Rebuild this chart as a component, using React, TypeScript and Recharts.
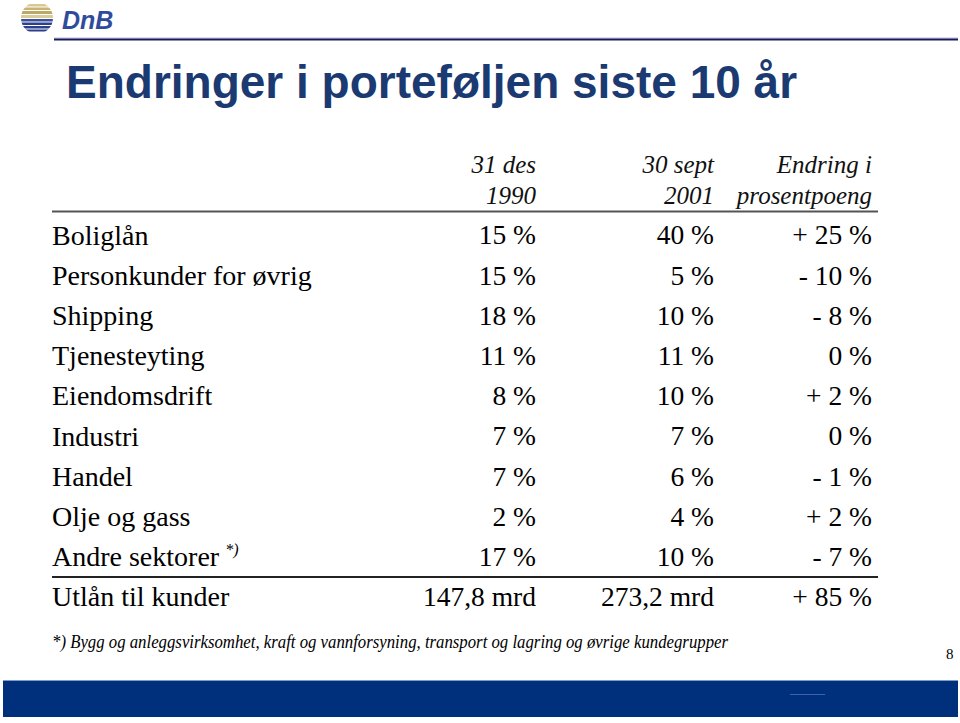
import { Bar, BarChart, LabelList, XAxis, YAxis } from "recharts";

const ROW_LABELS = [
  "Boliglån",
  "Personkunder for øvrig",
  "Shipping",
  "Tjenesteyting",
  "Eiendomsdrift",
  "Industri",
  "Handel",
  "Olje og gass",
  "Andre sektorer",
  "Utlån til kunder",
];
const SHARE_1990 = [15, 15, 18, 11, 8, 7, 7, 2, 17, 147.8];
const SHARE_2001 = [40, 5, 10, 11, 10, 7, 6, 4, 10, 273.2];
const CHANGE_PP = [25, -10, -8, 0, 2, 0, -1, 2, -7, 85];
const VALUE_UNIT = ["%", "%", "%", "%", "%", "%", "%", "%", "%", "mrd"];
const FOOTNOTE_ROW = "Andre sektorer";

const COL_HEADERS = [
  ["31 des", "1990"],
  ["30 sept", "2001"],
  ["Endring i", "prosentpoeng"],
];
const TITLE = "Endringer i porteføljen siste 10 år";
const FOOTNOTE =
  "*) Bygg og anleggsvirksomhet, kraft og vannforsyning, transport og lagring og øvrige kundegrupper";

const W = 960;
const H = 723;
const COL_X = [536, 714, 872];
const SERIF = "Liberation Serif, DejaVu Serif, serif";
const SANS = "Liberation Sans, Arial, sans-serif";
const NAVY = "#1b3a72";

const fmtShare = (v: number, unit: string) =>
  unit === "mrd" ? `${v.toFixed(1).replace(".", ",")} mrd` : `${v} %`;
const fmtChange = (v: number) =>
  v > 0 ? `+ ${v} %` : v < 0 ? `- ${-v} %` : "0 %";

const rows = ROW_LABELS.map((name, i) => ({
  name,
  v1990: SHARE_1990[i],
  s1990: fmtShare(SHARE_1990[i], VALUE_UNIT[i]),
  s2001: fmtShare(SHARE_2001[i], VALUE_UNIT[i]),
  sChange: fmtChange(CHANGE_PP[i]),
}));

// table cells: y comes from the row band, x is the column's right edge
const cell = (col: number) => (p: any) => {
  const y = p.y + p.height / 2;
  return (
    <text
      x={COL_X[col]}
      y={y}
      dy="0.34em"
      textAnchor="end"
      style={{ fontFamily: SERIF, fontSize: 27.5 }}
      fill="#000"
    >
      {p.value}
    </text>
  );
};

function RowLabel({ y, payload }: any) {
  return (
    <text x={52} y={y} dy="0.34em" style={{ fontFamily: SERIF, fontSize: 28 }} fill="#000">
      {payload.value}
      {payload.value === FOOTNOTE_ROW && (
        <tspan dx={6} dy={-11} style={{ fontSize: 16, fontStyle: "italic" }}>
          *)
        </tspan>
      )}
    </text>
  );
}

function Logo() {
  const stripes = [
    [4, 2.5, "#d9c98f"],
    [7.5, 2.5, "#c9b276"],
    [11, 3, "#bfa866"],
    [15, 3, "#d8cc98"],
    [19, 2.5, "#3b4f9a"],
    [22.5, 2.5, "#2b3f8c"],
    [26, 2.5, "#2b3f8c"],
    [29.5, 2, "#2b3f8c"],
  ] as const;
  return (
    <g>
      <defs>
        <clipPath id="logo-clip">
          <circle cx={37} cy={18} r={16} />
        </clipPath>
      </defs>
      <g clipPath="url(#logo-clip)">
        {stripes.map(([y, h, c], i) => (
          <rect key={i} x={18} y={y} width={40} height={h} fill={c} />
        ))}
      </g>
      <text
        x={62}
        y={29}
        style={{ fontFamily: SANS, fontWeight: "bold", fontStyle: "italic", fontSize: 25 }}
        fill="#2f4c9c"
      >
        DnB
      </text>
    </g>
  );
}

function Slide() {
  return (
    <svg width={W} height={H} style={{ position: "absolute", left: 0, top: 0 }}>
      <rect width={W} height={H} fill="#fff" />
      <Logo />
      <line x1={54} x2={958} y1={38} y2={38} stroke="#b8b8e4" strokeWidth={1} />
      <line x1={54} x2={958} y1={39.5} y2={39.5} stroke="#1a1a5a" strokeWidth={2} />
      <text
        x={66}
        y={98}
        style={{ fontFamily: SANS, fontWeight: "bold", fontSize: 46 }}
        fill={NAVY}
      >
        {TITLE}
      </text>
      {COL_HEADERS.map((lines, c) =>
        lines.map((t, l) => (
          <text
            key={`${c}-${l}`}
            x={COL_X[c]}
            y={173 + l * 31}
            textAnchor="end"
            style={{ fontFamily: SERIF, fontStyle: "italic", fontSize: 25 }}
            fill="#111"
          >
            {t}
          </text>
        ))
      )}
      <line x1={52} x2={878} y1={211.5} y2={211.5} stroke="#555" strokeWidth={2} />
      <line x1={52} x2={878} y1={577} y2={577} stroke="#222" strokeWidth={2} />
      <text
        x={52}
        y={648}
        style={{ fontFamily: SERIF, fontStyle: "italic", fontSize: 19 }}
        textLength={676}
        lengthAdjust="spacingAndGlyphs"
        fill="#000"
      >
        {FOOTNOTE}
      </text>
      <text x={946} y={659} style={{ fontFamily: SERIF, fontSize: 15 }} fill="#000">
        8
      </text>
      <rect x={3} y={680} width={955} height={37} fill="#00307c" />
      <line x1={3} x2={958} y1={680.5} y2={680.5} stroke="#7f9cc8" strokeWidth={1} />
      <line x1={790} x2={825} y1={694.5} y2={694.5} stroke="#3d62a8" strokeWidth={1} />
    </svg>
  );
}

export default function App() {
  return (
    <div style={{ position: "absolute", left: 0, top: 0, width: W, height: H }}>
      <Slide />
      <div style={{ position: "absolute", left: 0, top: 0 }}>
        <BarChart
          width={W}
          height={H}
          data={rows}
          layout="vertical"
          margin={{ top: 215, right: 20, bottom: 106, left: 0 }}
        >
          <XAxis type="number" hide domain={[0, 300]} />
          <YAxis
            type="category"
            dataKey="name"
            width={400}
            axisLine={false}
            tickLine={false}
            tick={<RowLabel />}
            interval={0}
          />
          <Bar dataKey="v1990" fill="transparent" isAnimationActive={false}>
            <LabelList dataKey="s1990" content={cell(0)} />
            <LabelList dataKey="s2001" content={cell(1)} />
            <LabelList dataKey="sChange" content={cell(2)} />
          </Bar>
        </BarChart>
      </div>
    </div>
  );
}
